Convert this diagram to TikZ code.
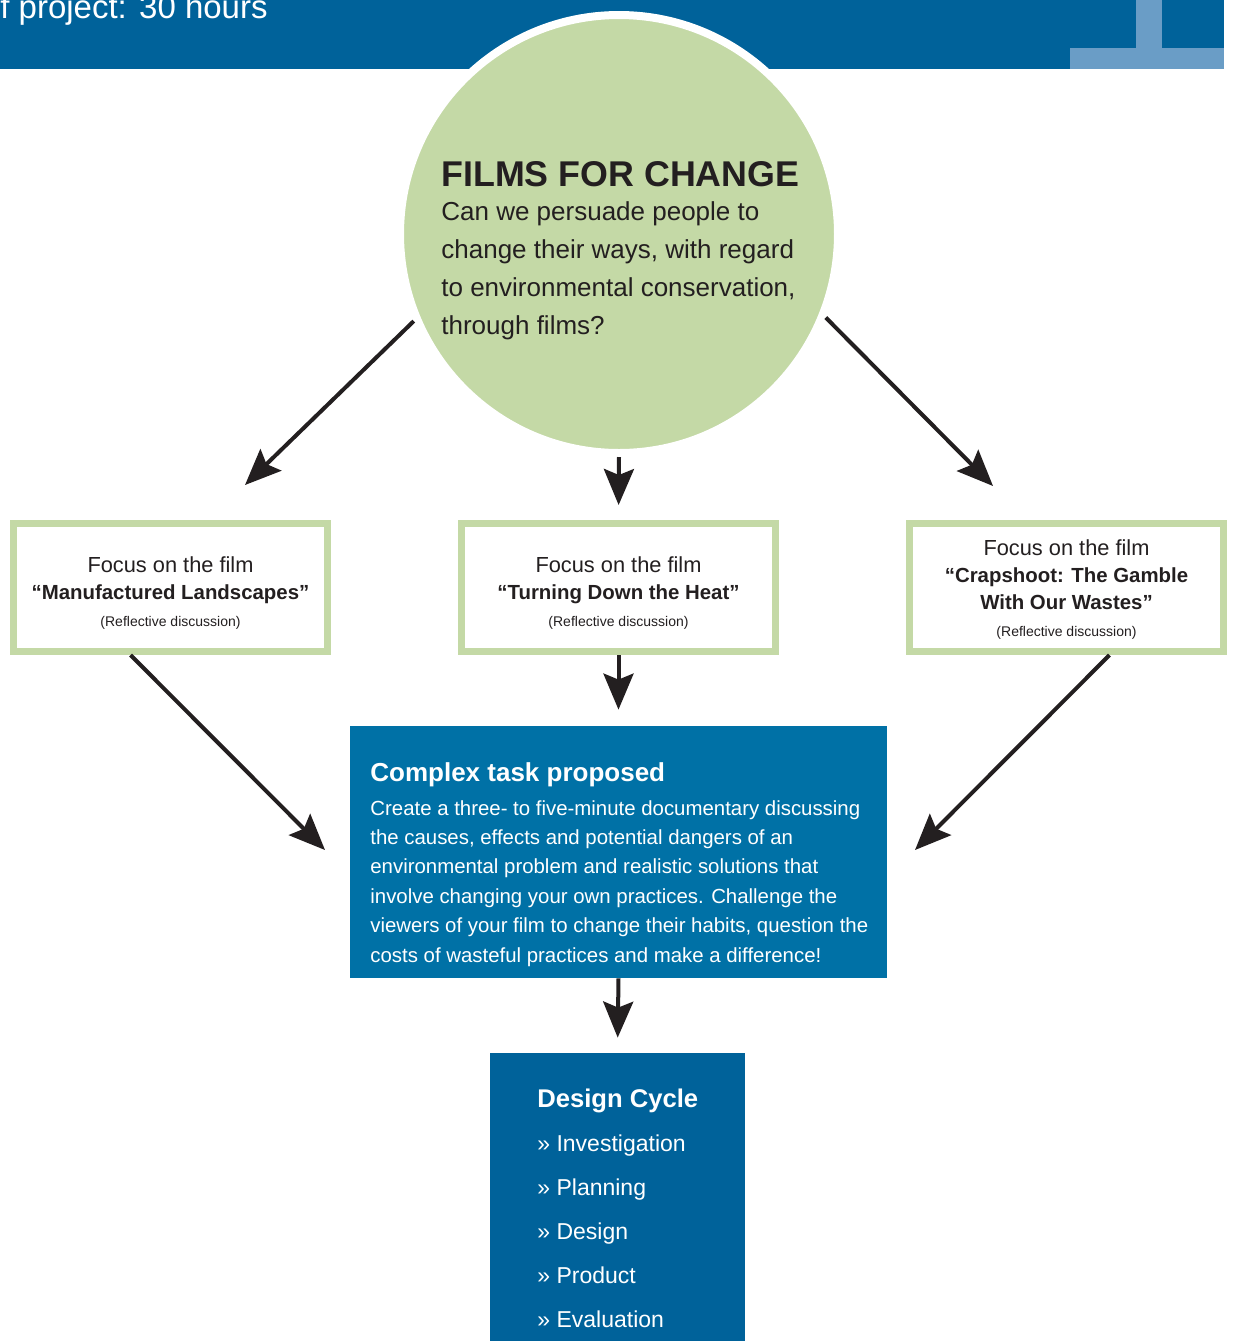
\documentclass[tikz,border=0pt]{standalone}
\usepackage{fontspec}
\setmainfont{Liberation Sans}
\usetikzlibrary{arrows.meta, positioning}

\definecolor{leafgreen}{HTML}{C4D9A6}
\definecolor{deepblue}{HTML}{00629A}
\definecolor{taskblue}{HTML}{0071A6}
\definecolor{paleblue}{HTML}{6A9DC6}
\definecolor{ink}{HTML}{231F20}

\tikzset{
  flow/.style = {draw=ink, line width=2pt, -{Stealth[length=18pt, width=15pt, inset=3pt]}},
  filmbox/.style = {rectangle, draw=leafgreen, line width=3.5pt, fill=white, text=ink,
                    minimum width=157pt, minimum height=64pt, align=center, inner sep=0pt,
                    font=\fontsize{10.9}{13.5}\selectfont},
  bluebox/.style = {rectangle, draw=none, inner sep=0pt},
  label/.style = {inner sep=0pt, align=left}
}
\newcommand{\focusline}[1]{\rule{0pt}{#1}Focus on the film}
\newcommand{\filmtitle}[1]{{\bfseries\fontsize{10.2}{13.5}\selectfont #1}}
\newcommand{\filmnote}{{\fontsize{7}{13.5}\selectfont (Reflective discussion)}}

\begin{document}
\begin{tikzpicture}[x=0.5pt, y=-0.5pt]
  \useasboundingbox (0,0) rectangle (1233,1341);
  \clip (0,0) rectangle (1233,1341);

  % header strip
  \fill[deepblue] (0,0) rectangle (1224,69);
  \fill[paleblue] (1136,0) rectangle (1162,48);
  \fill[paleblue] (1070,48) rectangle (1224,69);
  \node (Hours) [label, anchor=base west, text=white, font=\fontsize{16.5}{20}\selectfont] at (0,18) {f project: 30 hours};

  % the central question
  \node (Hub) [circle, fill=leafgreen, draw=white, line width=4pt, minimum size=219pt] at (619,234) {};
  \node (HubTitle) [label, anchor=base west, text=ink, font=\bfseries\fontsize{17.9}{20}\selectfont] at (441,186) {FILMS FOR CHANGE};
  \node (HubText) [label, anchor=north west, text=ink, font=\fontsize{13}{19}\selectfont] at (441,201)
    {Can we persuade people to\\change their ways, with regard\\to environmental conservation,\\through films?};

  % the three films
  \node (FilmA) [filmbox] at (170.5,587.5) {\focusline{13pt}\\
    \filmtitle{“Manufactured Landscapes”}\\ \filmnote};
  \node (FilmB) [filmbox] at (618.5,587.5) {\focusline{13pt}\\
    \filmtitle{“Turning Down the Heat”}\\ \filmnote};
  \node (FilmC) [filmbox] at (1066.5,587.5) {\focusline{10pt}\\
    \filmtitle{“Crapshoot: The Gamble}\\ \filmtitle{With Our Wastes”}\\ \filmnote};

  \coordinate (ToFilmA) at (245,485);
  \coordinate (ToFilmC) at (993,486);
  \draw[flow] (Hub.203) -- (ToFilmA);
  \draw[flow, shorten >=7.5pt] (Hub.south) -- (FilmB.north);
  \draw[flow] (Hub.338) -- (ToFilmC);

  % the task
  \node (Task) [bluebox, fill=taskblue, minimum width=268.5pt, minimum height=126pt] at (618.5,852) {};
  \node (TaskTitle) [label, anchor=base west, text=white, font=\bfseries\fontsize{13}{16}\selectfont] at (370,781) {Complex task proposed};
  \node (TaskText) [label, anchor=north west, text=white, font=\fontsize{10.2}{14.7}\selectfont] at (370,800)
    {Create a three- to five-minute documentary discussing\\
     the causes, effects and potential dangers of an\\
     environmental problem and realistic solutions that\\
     involve changing your own practices. Challenge the\\
     viewers of your film to change their habits, question the\\
     costs of wasteful practices and make a difference!};

  \coordinate (ToTaskW) at (325,850);
  \coordinate (ToTaskE) at (915,850);
  \draw[flow] ([xshift=-20pt]FilmA.south) -- (ToTaskW);
  \draw[flow, shorten >=8pt] (FilmB.south) -- (Task.north);
  \draw[flow] ([xshift=21.5pt]FilmC.south) -- (ToTaskE);

  % design cycle
  \node (Cycle) [bluebox, fill=deepblue, minimum width=127.5pt, minimum height=150pt] at (617.5,1203) {};
  \node (CycleTitle) [label, anchor=base west, text=white, font=\bfseries\fontsize{12.8}{16}\selectfont] at (537,1107) {Design Cycle};
  \node (CycleSteps) [label, anchor=north west, text=white, font=\fontsize{11.5}{22.1}\selectfont] at (537,1134)
    {» Investigation\\» Planning\\» Design\\» Product\\» Evaluation};

  \draw[flow, shorten >=7.5pt] (Task.south) -- (Cycle.north);
\end{tikzpicture}
\end{document}
